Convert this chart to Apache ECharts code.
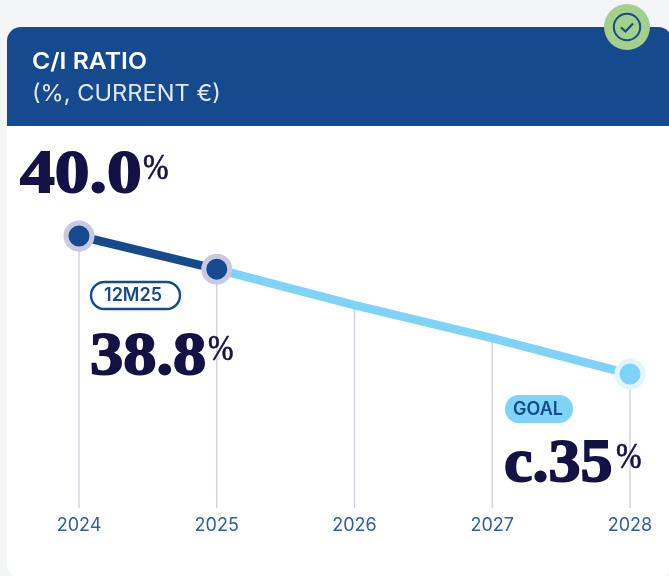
<!DOCTYPE html>
<html>
<head>
<meta charset="utf-8">
<style>html,body{margin:0;padding:0;background:#f4f5f7}#c{width:669px;height:576px}</style>
<script src="https://cdn.jsdelivr.net/npm/echarts@6/dist/echarts.min.js"></script>
</head>
<body>
<div id="c"></div>
<script>
const years = ['2024', '2025', '2026', '2027', '2028'];
const actualValues = [40.0, 38.8, null, null, null];
const targetPath = [null, 38.8, 37.5, 36.3, 35.0];
const dropLines = [40.0, 38.8, 37.5, 36.3, 35.0];
const titleMain = 'C/I RATIO';
const titleSub = '(%, CURRENT €)';
const valueStart = '40.0';
const valueCurrent = '38.8';
const valueGoal = 'c.35';
const pillCurrent = '12M25';
const pillGoal = 'GOAL';

const NAVY = '#154a8e', SKY = '#7dd3f8', INK = '#141145';
const serif = '"Liberation Serif", serif';
const sans = 'Inter, Roboto, sans-serif';
const AXIS_MIN = 30.15;

function big(text, x, y, sx) {
  return { type: 'text', x, y, scaleX: sx, z: 20, style: { text, fill: INK, stroke: INK, lineWidth: 1.8, font: `bold 61px ${serif}`, textAlign: 'left', textVerticalAlign: 'middle' } };
}
function pct(x, y) {
  return { type: 'text', x, y, scaleX: 0.85, z: 20, style: { text: '%', fill: INK, stroke: INK, lineWidth: 0.7, font: `36px ${serif}`, textAlign: 'left', textVerticalAlign: 'middle' } };
}

const chart = echarts.init(document.getElementById('c'), null, { renderer: 'canvas' });
chart.setOption({
  animation: false,
  backgroundColor: '#f4f5f7',
  grid: { left: 79, right: 39, top: 236, height: 272, containLabel: false },
  xAxis: {
    type: 'category', data: years, boundaryGap: false,
    axisLine: { show: false }, axisTick: { show: false }, splitLine: { show: false },
    axisLabel: { color: '#2f5fa3', fontSize: 18, fontFamily: sans, margin: 9, interval: 0, hideOverlap: false }
  },
  yAxis: { type: 'value', min: AXIS_MIN, max: 40, show: false, splitLine: { show: false } },
  series: [
    {
      type: 'custom', z: 2, silent: true, clip: false,
      data: dropLines.map((v, i) => [i, v]),
      encode: { x: 0, y: 1 },
      renderItem(params, api) {
        const top = api.coord([api.value(0), api.value(1)]);
        const bottom = api.coord([api.value(0), AXIS_MIN]);
        return { type: 'line', shape: { x1: top[0], y1: top[1], x2: bottom[0], y2: bottom[1] }, style: { stroke: '#cdd3dd', lineWidth: 1.4 } };
      }
    },
    {
      type: 'line', z: 3, clip: false, silent: true,
      data: targetPath.map((v, i) => i === targetPath.length - 1 ? {
        value: v, symbol: 'circle', symbolSize: 26,
        itemStyle: { color: SKY, borderColor: '#e2f5fd', borderWidth: 5 }
      } : { value: v, symbol: 'none' }),
      lineStyle: { color: SKY, width: 8.5 }, showSymbol: true, showAllSymbol: true
    },
    {
      type: 'line', z: 4, clip: false, silent: true, data: actualValues,
      symbol: 'circle', symbolSize: 26, showAllSymbol: true,
      lineStyle: { color: NAVY, width: 8.5 },
      itemStyle: { color: NAVY, borderColor: '#c9c9e0', borderWidth: 5 }
    }
  ],
  graphic: [
    { type: 'rect', z: -2, shape: { x: 7, y: 27, width: 665, height: 551, r: 14 }, style: { fill: '#ffffff' } },
    { type: 'rect', z: -1, shape: { x: 7, y: 27, width: 665, height: 99, r: [14, 14, 0, 0] }, style: { fill: NAVY } },
    { type: 'text', x: 32, y: 62, scaleX: 1.1, z: 10, style: { text: titleMain, fill: '#ffffff', font: `600 22.5px ${sans}`, textVerticalAlign: 'middle' } },
    { type: 'text', x: 32, y: 94, scaleX: 1.05, z: 10, style: { text: titleSub, fill: '#e3e9f3', font: `400 22.5px ${sans}`, textVerticalAlign: 'middle' } },
    { type: 'circle', z: 10, shape: { cx: 627, cy: 27, r: 23 }, style: { fill: '#a3d08a' } },
    { type: 'circle', z: 11, shape: { cx: 627, cy: 27, r: 13.2 }, style: { fill: 'none', stroke: NAVY, lineWidth: 2 } },
    { type: 'polyline', z: 11, shape: { points: [[621, 27.5], [625.5, 31.5], [633, 23.5]] }, style: { fill: 'none', stroke: NAVY, lineWidth: 2.2 } },
    big(valueStart, 20, 176, 1.14),
    pct(143, 170),
    { type: 'rect', z: 15, shape: { x: 91, y: 282, width: 89, height: 27, r: 13.5 }, style: { fill: '#fff', stroke: NAVY, lineWidth: 2.4 } },
    { type: 'text', x: 133, y: 296, z: 16, style: { text: pillCurrent, fill: NAVY, font: `600 18px ${sans}`, textAlign: 'center', textVerticalAlign: 'middle' } },
    big(valueCurrent, 90, 358, 1.09),
    pct(208, 351),
    { type: 'rect', z: 15, shape: { x: 505, y: 395, width: 68, height: 28, r: 14 }, style: { fill: SKY } },
    { type: 'text', x: 538, y: 410, z: 16, style: { text: pillGoal, fill: NAVY, font: `600 18px ${sans}`, textAlign: 'center', textVerticalAlign: 'middle' } },
    big(valueGoal, 504, 465, 1.05),
    pct(616, 459)
  ]
});
</script>
</body>
</html>
